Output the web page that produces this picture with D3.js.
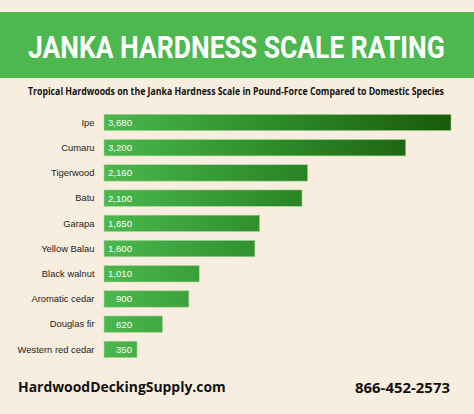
<!DOCTYPE html>
<html><head><meta charset="utf-8">
<script src="https://cdn.jsdelivr.net/npm/d3@7"></script>
<style>html,body{margin:0;padding:0;background:#f8eedf;}svg{display:block;}</style>
</head><body>
<script>
const categories = ["Ipe","Cumaru","Tigerwood","Batu","Garapa","Yellow Balau","Black walnut","Aromatic cedar","Douglas fir","Western red cedar"];
const values = [3680,3200,2160,2100,1650,1600,1010,900,620,350];
const valueLabels = ["3,680","3,200","2,160","2,100","1,650","1,600","1,010","900","620","350"];
const title = "JANKA HARDNESS SCALE RATING";
const subtitle = "Tropical Hardwoods on the Janka Hardness Scale in Pound-Force Compared to Domestic Species";
const footerLeft = "HardwoodDeckingSupply.com";
const footerRight = "866-452-2573";

const W = 474, H = 414;
const svg = d3.select("body").append("svg").attr("width", W).attr("height", H);
svg.append("rect").attr("width", W).attr("height", H).attr("fill", "#f8eedf");

// fit a text horizontally into [x1, x2] by scaling around its anchor
function fitText(sel, x1, x2, baseline) {
  const node = sel.node();
  const w = node.getComputedTextLength();
  const k = (x2 - x1) / w;
  sel.attr("x", 0).attr("y", 0).attr("text-anchor", "start")
     .attr("transform", `translate(${x1},${baseline}) scale(${k},1)`);
}

// banner
svg.append("rect").attr("x", 0).attr("y", 12).attr("width", W).attr("height", 66).attr("fill", "#4cb84f");
const t = svg.append("text")
  .attr("font-family", "'Liberation Sans Narrow', Roboto, sans-serif").attr("font-weight", "bold")
  .attr("font-size", 31).attr("fill", "#fff").text(title);
fitText(t, 28, 445, 58);
const st = svg.append("text")
  .attr("font-family", "'Open Sans', sans-serif").attr("font-weight", "bold")
  .attr("font-size", 10).attr("fill", "#111").text(subtitle);
fitText(st, 28, 445, 95);

const x0 = 104;
const x = d3.scaleLinear().domain([0, 3680]).range([x0, 451]);
const y = d3.scaleBand().domain(categories).range([114.3, 357.6]).paddingInner(0.35).paddingOuter(0);

const defs = svg.append("defs");
const grad = defs.append("linearGradient").attr("id", "g").attr("gradientUnits", "userSpaceOnUse")
  .attr("x1", x0).attr("x2", 451).attr("y1", 0).attr("y2", 0);
grad.append("stop").attr("offset", "0%").attr("stop-color", "#4bb84d");
grad.append("stop").attr("offset", "45%").attr("stop-color", "#2f8f2c");
grad.append("stop").attr("offset", "100%").attr("stop-color", "#1a5a0a");

const data = categories.map((c, i) => ({c, v: values[i], l: valueLabels[i]}));

svg.append("g").selectAll("rect").data(data).join("rect")
  .attr("x", x(0)).attr("y", d => y(d.c))
  .attr("width", d => x(d.v) - x(0)).attr("height", y.bandwidth())
  .attr("fill", "url(#g)").attr("stroke", "#a9d69a").attr("stroke-width", 0.6);

svg.append("g").selectAll("text").data(data).join("text")
  .attr("x", 132).attr("y", d => y(d.c) + y.bandwidth() / 2).attr("dy", "0.36em")
  .attr("text-anchor", "end").attr("font-family", "'Liberation Sans', Arial, sans-serif")
  .attr("font-size", 9.6).attr("fill", "#fff").text(d => d.l);

svg.append("g").selectAll("text").data(data).join("text")
  .attr("x", 94.5).attr("y", d => y(d.c) + y.bandwidth() / 2).attr("dy", "0.34em")
  .attr("text-anchor", "end").attr("font-family", "'Liberation Sans', Arial, sans-serif")
  .attr("font-size", 9.4).attr("fill", "#222").text(d => d.c);

const fl = svg.append("text")
  .attr("font-family", "'Open Sans', sans-serif").attr("font-weight", "bold")
  .attr("font-size", 14).attr("fill", "#111").text(footerLeft);
fitText(fl, 18, 226, 392);
const fr = svg.append("text")
  .attr("font-family", "'Open Sans', sans-serif").attr("font-weight", "bold")
  .attr("font-size", 14).attr("fill", "#111").text(footerRight);
fitText(fr, 355, 450, 393);
</script>
</body></html>
